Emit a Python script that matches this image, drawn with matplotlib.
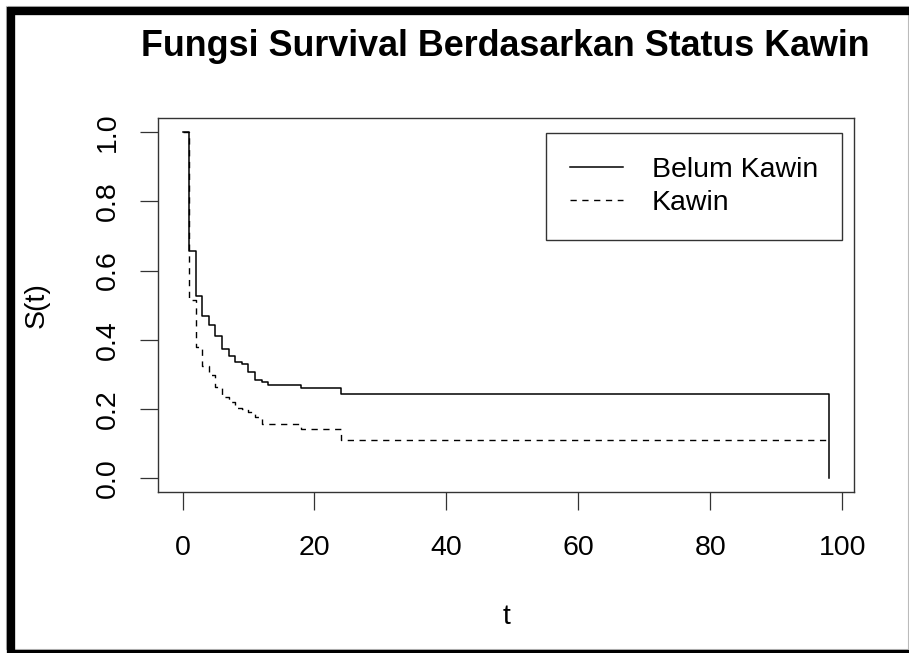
import matplotlib
matplotlib.use("Agg")
import matplotlib.pyplot as plt
from matplotlib.patches import Rectangle
from matplotlib.lines import Line2D

# region data
# Kaplan-Meier estimates
t_belum = [0, 1, 2, 3, 4, 5, 6, 7, 8, 9, 10, 11, 12, 13, 18, 24, 98]
s_belum = [1.0, 0.657, 0.527, 0.469, 0.444, 0.412, 0.372, 0.354, 0.335,
           0.329, 0.308, 0.285, 0.278, 0.270, 0.262, 0.244, 0.0]

t_kawin = [0, 1, 2, 3, 4, 5, 6, 7, 8, 9, 10, 11, 12, 18, 24, 98]
s_kawin = [1.0, 0.516, 0.378, 0.324, 0.297, 0.263, 0.235, 0.219, 0.204,
           0.200, 0.191, 0.176, 0.156, 0.143, 0.109, 0.109]

labels = ["Belum Kawin", "Kawin"]
x_ticks = [0, 20, 40, 60, 80, 100]
y_ticks = [0.0, 0.2, 0.4, 0.6, 0.8, 1.0]
# endregion

W, H = 909, 653
plt.rcParams['font.family'] = ['Liberation Sans', 'DejaVu Sans']

fig = plt.figure(figsize=(W / 100, H / 100), dpi=100)
ax = fig.add_axes([158.3 / W, 1 - 492 / H, (854 - 158.3) / W, (492 - 118.3) / H])

ax.step(t_belum, s_belum, where='post', color='black', lw=1.1, label=labels[0])
ax.step(t_kawin, s_kawin, where='post', color='black', lw=1.0,
        linestyle=(0, (4.5, 4)), label=labels[1])

ax.set_xlim(-3.67, 101.8)
ax.set_ylim(-0.04, 1.04)
ax.set_xticks(x_ticks)
ax.set_yticks(y_ticks)
ax.set_xticklabels([str(v) for v in x_ticks])
ax.set_yticklabels([f"{v:.1f}" for v in y_ticks], rotation=90, va='center')
ax.tick_params(axis='both', direction='out', length=13, width=0.9,
               color='#333333', labelsize=20.5)
ax.tick_params(axis='x', pad=18)
ax.tick_params(axis='y', pad=14)
for sp in ax.spines.values():
    sp.set_color('#333333')
    sp.set_linewidth(1.0)

# title centred over the plot box, placed in pixels
fig.text(505 / W, 1 - 47 / H, "Fungsi Survival Berdasarkan Status Kawin",
         fontsize=25.8, fontweight='bold', ha='center', va='center')

ax.set_xlabel("t", fontsize=20.5)
ax.set_ylabel("S(t)", fontsize=20.5)
ax.xaxis.set_label_coords(0.5, (H - 617 - (H - 492)) / (492 - 118.3))
ax.xaxis.label.set_va('center')
ax.yaxis.set_label_coords((37 - 158.3) / (854 - 158.3), 0.5)
ax.yaxis.label.set_va('center')

leg = ax.legend(loc='upper right', bbox_to_anchor=(0.9828, 0.9615),
                fontsize=20.5, fancybox=False, frameon=True, framealpha=1,
                edgecolor='#333333', handlelength=1.85, handletextpad=1.0,
                borderpad=0.85, labelspacing=0.25, borderaxespad=0)
leg.get_frame().set_linewidth(1.0)

# outer frame of the picture
fig.add_artist(Rectangle((6 / W, 1 - 648.5 / H), (907.5 - 6) / W, (648.5 - 6) / H,
                         transform=fig.transFigure, fill=False,
                         edgecolor='#bbbbbb', lw=0.8))
fig.add_artist(Line2D([11 / W, 11 / W], [1 - 7 / H, 0], transform=fig.transFigure,
                      color='black', lw=6, solid_capstyle='butt'))
fig.add_artist(Line2D([8 / W, 1], [1 - 11 / H, 1 - 11 / H], transform=fig.transFigure,
                      color='black', lw=6, solid_capstyle='butt'))
fig.add_artist(Line2D([8 / W, 1], [1.5 / H, 1.5 / H], transform=fig.transFigure,
                      color='black', lw=3, solid_capstyle='butt'))

fig.savefig("out.png", dpi=100)
